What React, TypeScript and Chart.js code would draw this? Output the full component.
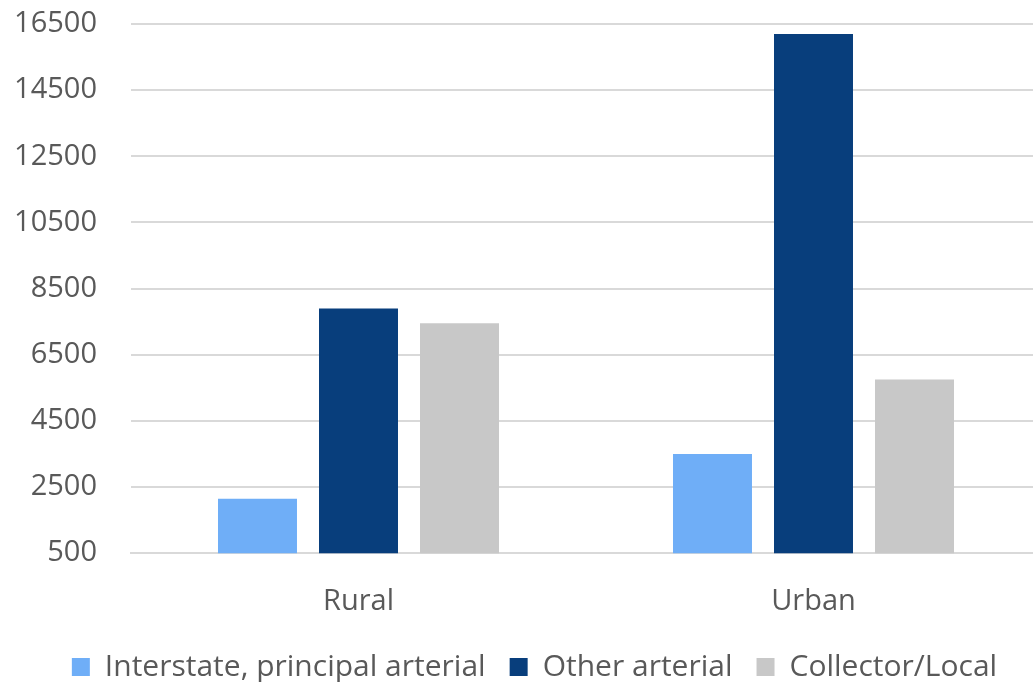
import React, { useEffect, useRef } from "react";
import { Chart, registerables } from "chart.js";

Chart.register(...registerables);

const categories = ["Rural", "Urban"];
const interstate = [2150, 3500];
const otherArterial = [7900, 16200];
const collectorLocal = [7450, 5750];
const seriesNames = ["Interstate, principal arterial", "Other arterial", "Collector/Local"];
const yMin = 500;
const yMax = 16500;
const yStep = 2000;

const FONT = "'Open Sans', 'Noto Sans', sans-serif";

const legendShift = {
  id: "legendShift",
  afterLayout(chart: any) {
    const lg = chart.legend;
    if (lg) {
      lg.left += 14;
      lg.right += 14;
    }
  },
};

export default function App() {
  const ref = useRef<HTMLCanvasElement | null>(null);
  useEffect(() => {
    document.body.style.margin = "0";
    document.body.style.overflow = "hidden";
    const ctx = ref.current!;
    const chart = new Chart(ctx, {
      type: "bar",
      data: {
        labels: categories,
        datasets: [
          { label: seriesNames[0], data: interstate, backgroundColor: "#6FAEF7" },
          { label: seriesNames[1], data: otherArterial, backgroundColor: "#083E7C" },
          { label: seriesNames[2], data: collectorLocal, backgroundColor: "#C8C8C8" },
        ],
      },
      plugins: [legendShift],
      options: {
        animation: false,
        responsive: false,
        maintainAspectRatio: false,
        layout: { padding: { left: 0, right: 0, top: 24, bottom: -10 } },
        datasets: { bar: { categoryPercentage: 0.666, barPercentage: 0.782 } },
        plugins: {
          tooltip: { enabled: false },
          legend: {
            position: "bottom",
            labels: {
              boxWidth: 18,
              boxHeight: 18,
              padding: 24,
              color: "#595959",
              font: { family: FONT, size: 30 },
            },
          },
        },
        scales: {
          x: {
            afterFit: (s: any) => {
              s.height = s.height - 22;
            },
            grid: { display: false, drawTicks: false },
            border: { display: true, color: "#D9D9D9", width: 2 },
            ticks: { color: "#595959", font: { family: FONT, size: 29 }, padding: 31 },
          },
          y: {
            min: yMin,
            max: yMax,
            afterFit: (s: any) => {
              s.width = 131;
              s.paddingTop = 0;
              s.paddingBottom = 0;
            },
            grid: { color: "#D9D9D9", lineWidth: 2, drawTicks: false },
            border: { display: false },
            ticks: {
              stepSize: yStep,
              color: "#595959",
              font: { family: FONT, size: 29 },
              padding: 34,
              callback: (v: any) => String(v),
            },
          },
        },
      },
    });
    return () => chart.destroy();
  }, []);
  return (
    <div style={{ width: 1033, height: 682, overflow: "hidden" }}>
      <canvas ref={ref} width={1041} height={682} style={{ display: "block" }} />
    </div>
  );
}
